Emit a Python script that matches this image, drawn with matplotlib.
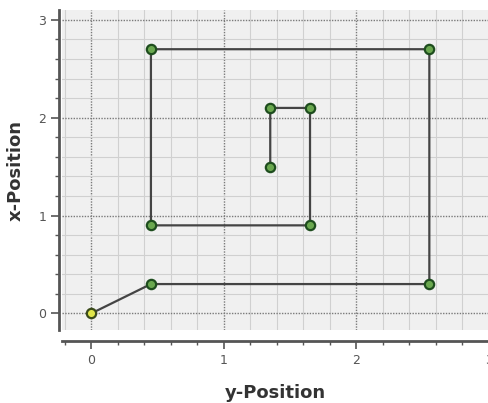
# Robot path: x-Position vs y-Position
import matplotlib.pyplot as plt
from matplotlib.ticker import MultipleLocator

# path points (y-Position on horizontal axis, x-Position on vertical axis)
y_pos = [0.0, 0.45, 2.55, 2.55, 0.45, 0.45, 1.65, 1.65, 1.35, 1.35]
x_pos = [0.0, 0.30, 0.30, 2.70, 2.70, 0.90, 0.90, 2.10, 2.10, 1.50]

fig = plt.figure(figsize=(4.89, 4.03), dpi=100)
ax = fig.add_axes([0.127, 0.181, 0.873, 0.794])
ax.set_facecolor("#f0f0f0")

# grid
ax.xaxis.set_major_locator(MultipleLocator(1))
ax.yaxis.set_major_locator(MultipleLocator(1))
ax.xaxis.set_minor_locator(MultipleLocator(0.2))
ax.yaxis.set_minor_locator(MultipleLocator(0.2))
ax.grid(which="major", color="#7a7a7a", linestyle=(0, (1, 1)), linewidth=1.0)
ax.grid(which="minor", color="#d0d0d0", linestyle="-", linewidth=0.8)
ax.set_axisbelow(True)

# path
ax.plot(y_pos, x_pos, color="#444444", linewidth=1.6, zorder=2)
ax.scatter(y_pos[1:], x_pos[1:], s=45, color="#6aa84f",
           edgecolors="#1e4d1e", linewidths=1.6, zorder=3)
ax.scatter(y_pos[:1], x_pos[:1], s=45, color="#e0e64a",
           edgecolors="#3a4a1a", linewidths=1.6, zorder=3)

ax.set_xlim(-0.22, 3.0)
ax.set_ylim(-0.17, 3.1)

for s in ["top", "right"]:
    ax.spines[s].set_visible(False)
ax.spines["left"].set_position(("outward", 2))
ax.spines["bottom"].set_position(("outward", 8))
ax.spines["left"].set_color("#555555")
ax.spines["bottom"].set_color("#555555")
ax.spines["left"].set_linewidth(2)
ax.spines["bottom"].set_linewidth(2)

ax.tick_params(which="major", length=6, width=1.2, color="#555555",
               labelsize=9, labelcolor="#555555")
ax.tick_params(which="minor", length=3, width=1.0, color="#555555")

ax.set_xlabel("y-Position", fontsize=13, fontweight="bold", color="#333333",
              labelpad=12)
ax.set_ylabel("x-Position", fontsize=13, fontweight="bold", color="#333333",
              labelpad=10)

plt.savefig("out.png", dpi=100)
